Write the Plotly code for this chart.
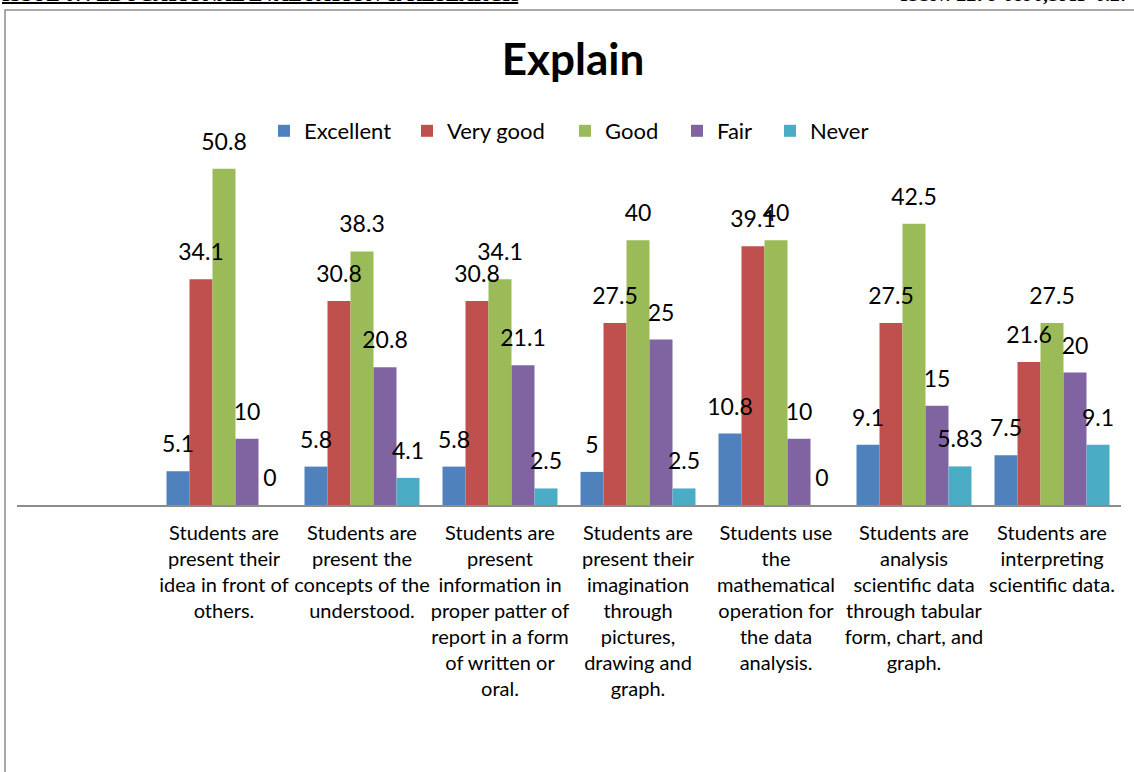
import plotly.graph_objects as go

categories = [
    "Students are<br>present their<br>idea in front of<br>others.",
    "Students are<br>present the<br>concepts of the<br>understood.",
    "Students are<br>present<br>information in<br>proper patter of<br>report in a form<br>of written or<br>oral.",
    "Students are<br>present their<br>imagination<br>through<br>pictures,<br>drawing and<br>graph.",
    "Students use<br>the<br>mathematical<br>operation for<br>the data<br>analysis.",
    "Students are<br>analysis<br>scientific data<br>through tabular<br>form, chart, and<br>graph.",
    "Students are<br>interpreting<br>scientific data.",
]
excellent = [5.1, 5.8, 5.8, 5, 10.8, 9.1, 7.5]
very_good = [34.1, 30.8, 30.8, 27.5, 39.1, 27.5, 21.6]
good = [50.8, 38.3, 34.1, 40, 40, 42.5, 27.5]
fair = [10, 20.8, 21.1, 25, 10, 15, 20]
never = [0, 4.1, 2.5, 2.5, 0, 5.83, 9.1]

series = [
    ("Excellent", excellent, "#4F81BD"),
    ("Very good", very_good, "#C0504D"),
    ("Good", good, "#9BBB59"),
    ("Fair", fair, "#8064A2"),
    ("Never", never, "#4BACC6"),
]
legend_left_px = [284, 427, 585, 697, 790]

FONT = "Lato, 'Open Sans', sans-serif"

W, H = 1134, 772
ml, mr, mt, mb = 17, 13, 140, 267
pw, ph = W - ml - mr, H - mt - mb
px_per_unit = 6.62
ymax = ph / px_per_unit
label_pad_units = 11 / px_per_unit


def px2x(p):
    return (p - ml) / pw


def py2y(p):
    return (H - mb - p) / ph


def fmt(v):
    return ("%g" % v)


fig = go.Figure()
for i, (name, vals, col) in enumerate(series):
    lg = "legend" if i == 0 else "legend%d" % (i + 1)
    fig.add_trace(go.Bar(
        name=name, x=categories, y=vals, offsetgroup=name, alignmentgroup="g",
        marker=dict(color=col, line=dict(width=0)), legend=lg,
    ))
for name, vals, col in series:
    fig.add_trace(go.Bar(
        name=name, x=categories, y=[label_pad_units] * len(vals), base=vals,
        offsetgroup=name, alignmentgroup="g", showlegend=False,
        marker=dict(color="rgba(0,0,0,0)", line=dict(width=0)),
        text=[fmt(v) for v in vals], textposition="outside", cliponaxis=False,
        constraintext="none", textfont=dict(size=23, color="#000000", family=FONT),
        hoverinfo="skip",
    ))

layout_legends = {}
for i, p in enumerate(legend_left_px):
    key = "legend" if i == 0 else "legend%d" % (i + 1)
    layout_legends[key] = dict(
        orientation="h", x=px2x(p - 20), xanchor="left", y=py2y(131), yanchor="middle",
        font=dict(size=22, family=FONT, color="#000000"), itemwidth=30,
        bgcolor="rgba(0,0,0,0)",
    )

fig.update_layout(
    width=W, height=H,
    margin=dict(l=ml, r=mr, t=mt, b=mb, pad=0),
    paper_bgcolor="white", plot_bgcolor="white",
    barmode="group", bargap=23 / 138, bargroupgap=0,
    font=dict(family=FONT, color="#000000"),
    title=dict(text="<b>Explain</b>", x=(573 - 0) / W, xanchor="center", y=1 - 60 / H, yanchor="middle",
               font=dict(size=44, family=FONT, color="#000000")),
    showlegend=True,
    **layout_legends,
)
fig.update_xaxes(
    range=[-1.5, 6.5], showline=True, linecolor="#8C8C8C", linewidth=2,
    ticks="", showgrid=False, zeroline=False, ticklabelstandoff=9,
    tickfont=dict(size=20, family=FONT, color="#000000"), tickangle=0,
)
fig.update_yaxes(range=[0, ymax], visible=False, showgrid=False, zeroline=False)

# chart-area border
fig.add_shape(type="rect", xref="paper", yref="paper",
              x0=px2x(5), x1=px2x(1160), y0=py2y(800), y1=py2y(10),
              line=dict(color="#8C8C8C", width=1.5), fillcolor="rgba(0,0,0,0)", layer="below")

# clipped document header
fig.add_annotation(xref="paper", yref="paper", x=px2x(0), y=py2y(-6), xanchor="left", yanchor="middle",
                   text="<b><u>ISSUE 07: EDUCATIONAL EVALUATION &amp; RESEARCH</u></b>", showarrow=False,
                   font=dict(size=20, family="Liberation Serif", color="#000000"))
fig.add_annotation(xref="paper", yref="paper", x=px2x(1134), y=py2y(-6), xanchor="right", yanchor="middle",
                   text="<b><i>ISSN: 2278-6896,SJIF 6.27</i></b>", showarrow=False,
                   font=dict(size=20, family="Liberation Serif", color="#000000"))

fig.write_html("out.html")
